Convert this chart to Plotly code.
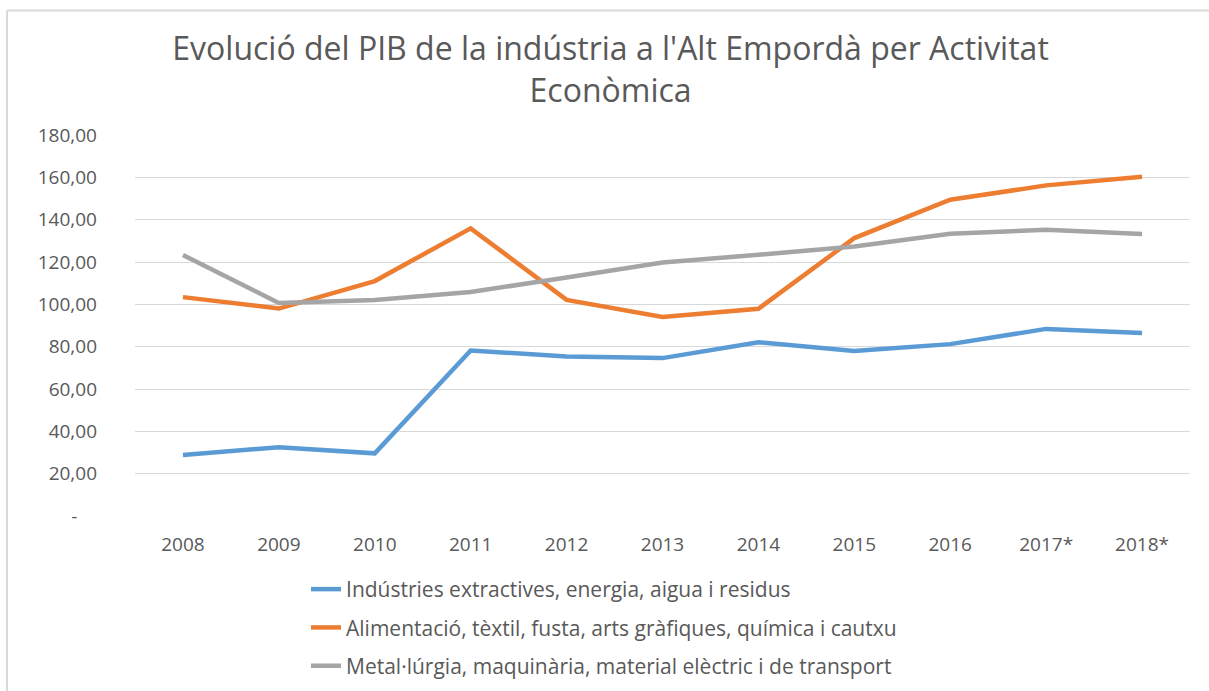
import plotly.graph_objects as go

years = ["2008", "2009", "2010", "2011", "2012", "2013", "2014", "2015", "2016", "2017*", "2018*"]
extractives = [28.8, 32.5, 29.6, 78.2, 75.3, 74.6, 82.1, 77.9, 81.2, 88.4, 86.4]
alimentacio = [103.4, 98.0, 111.0, 135.9, 102.1, 94.0, 97.9, 131.3, 149.4, 156.2, 160.3]
metallurgia = [123.3, 100.6, 102.1, 105.8, 112.7, 119.8, 123.4, 127.3, 133.3, 135.2, 133.2]

names = [
    "Indústries extractives, energia, aigua i residus",
    "Alimentació, tèxtil, fusta, arts gràfiques, química i cautxu",
    "Metal·lúrgia, maquinària, material elèctric i de transport",
]
colors = ["#5B9BD5", "#ED7D31", "#A5A5A5"]

y_tickvals = [0, 20, 40, 60, 80, 100, 120, 140, 160, 180]
y_ticktext = ["-\u00a0\u00a0\u00a0\u00a0", "20,00", "40,00", "60,00", "80,00", "100,00",
              "120,00", "140,00", "160,00", "180,00"]

title_text = "Evolució del PIB de la indústria a l'Alt Empordà per Activitat<br>Econòmica"

fig = go.Figure()
for i, (vals, name, col) in enumerate(zip([extractives, alimentacio, metallurgia], names, colors)):
    fig.add_trace(go.Scatter(
        x=years, y=vals, mode="lines", name=name,
        line=dict(color=col, width=4.5),
        legendgroup=f"g{i}",
    ))

FONT = "Open Sans"
fig.update_layout(
    width=1209, height=691,
    margin=dict(l=135, r=19, t=135, b=175),
    paper_bgcolor="white", plot_bgcolor="white",
    title=dict(text=title_text, x=0.505, xanchor="center", y=0.913, yanchor="middle",
               font=dict(family=FONT, size=32, color="#595959")),
    font=dict(family=FONT, color="#595959", size=19),
    xaxis=dict(type="category", range=[-0.5, 10.5], showgrid=False, showline=False,
               zeroline=False, ticks="", tickfont=dict(size=19, color="#595959"),
               ticklabelstandoff=15, tickangle=0),
    yaxis=dict(range=[0, 180], tickvals=y_tickvals, ticktext=y_ticktext,
               showgrid=True, gridcolor="#D9D9D9", gridwidth=1.3, zeroline=False,
               showline=False, ticks="", tickfont=dict(size=19, color="#595959"),
               ticklabelstandoff=37),
    showlegend=True,
    legend=dict(orientation="v", xref="paper", yref="container",
                x=0.1621, xanchor="left", y=0.1766, yanchor="top",
                font=dict(size=21, color="#595959"), tracegroupgap=8,
                bgcolor="rgba(0,0,0,0)"),
    shapes=[
        dict(type="line", xref="paper", yref="paper", x0=-0.1213, x1=1.02, y0=1.3265, y1=1.3265,
             line=dict(color="#D9D9D9", width=2)),
        dict(type="line", xref="paper", yref="paper", x0=-0.1213, x1=-0.1213, y0=1.3265, y1=-0.47,
             line=dict(color="#D9D9D9", width=2)),
    ],
)

fig.write_html("out.html", config={"displayModeBar": False},
               post_script="document.body.style.margin='0px';")
